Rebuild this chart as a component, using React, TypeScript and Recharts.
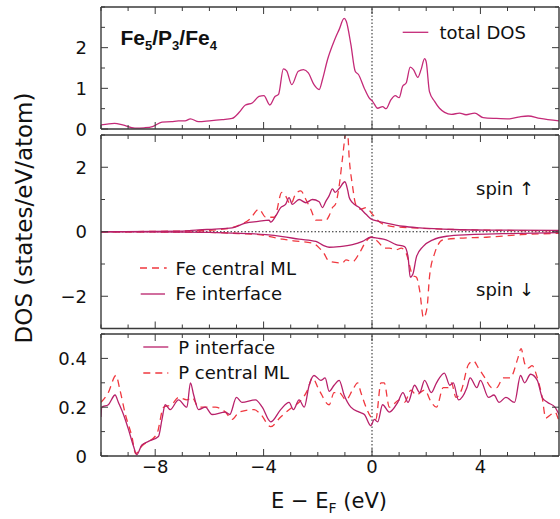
import { LineChart, Line, XAxis, YAxis, ReferenceLine } from 'recharts'

const FONT = '"DejaVu Sans", sans-serif'
const FRAME = '#3a3a3a'
const TEXT = '#111111'
const TOTAL_COLOR = '#c42a78'
const SOLID_COLOR = '#b8206a'
const DASH_COLOR = '#f0383f'

// shared energy axis (eV)
const X_DOMAIN: [number, number] = [-10, 6.9]
const X_TICKS = [-10, -9, -8, -7, -6, -5, -4, -3, -2, -1, 0, 1, 2, 3, 4, 5, 6]
const X_LABELS = [-8, -4, 0, 4]

// panel 1: total DOS
const totalE = [-10, -9.5, -9.2, -8.75, -8.4, -8.1, -7.75, -7.4, -7.14, -6.9, -6.7, -6.4, -6.0, -5.53, -5.16, -4.9, -4.67, -4.42, -4.17, -3.99, -3.77, -3.58, -3.45, -3.27, -3.15, -2.96, -2.72, -2.53, -2.35, -2.14, -1.95, -1.83, -1.64, -1.4, -1.21, -1.03, -0.95, -0.78, -0.62, -0.5, -0.29, -0.1, 0.02, 0.21, 0.39, 0.52, 0.7, 0.86, 1.0, 1.13, 1.26, 1.41, 1.53, 1.69, 1.81, 1.94, 2.0, 2.12, 2.31, 2.49, 2.68, 2.93, 3.23, 3.47, 3.79, 4.1, 4.59, 5.08, 5.46, 5.76, 6.2, 6.9]
const totalDos = [0.1, 0.14, 0.1, 0.02, 0.03, 0.06, 0.17, 0.18, 0.2, 0.2, 0.25, 0.18, 0.2, 0.23, 0.26, 0.41, 0.59, 0.64, 0.8, 0.82, 0.59, 0.8, 0.85, 1.48, 1.43, 1.09, 1.42, 1.46, 1.38, 1.09, 0.97, 1.21, 1.71, 2.16, 2.45, 2.72, 2.65, 2.08, 1.42, 1.34, 1.01, 0.76, 0.68, 0.51, 0.55, 0.5, 0.72, 0.82, 0.77, 1.05, 1.13, 1.52, 1.46, 1.27, 1.46, 1.73, 1.65, 0.92, 0.68, 0.51, 0.41, 0.36, 0.39, 0.35, 0.39, 0.28, 0.26, 0.25, 0.3, 0.32, 0.26, 0.2]

// panel 2: Fe, spin up (positive) and spin down (negative)
const feIntUpE = [-10, -7, -6.4, -5.8, -5.16, -4.67, -4.2, -3.8, -3.74, -3.55, -3.37, -3.19, -3.06, -2.94, -2.69, -2.44, -2.2, -1.95, -1.83, -1.7, -1.58, -1.46, -1.36, -1.21, -1.0, -0.9, -0.84, -0.72, -0.47, -0.22, -0.04, 0.21, 0.52, 1.14, 1.76, 3.0, 4.5, 6.9]
const feIntUp = [0, 0.02, 0.06, 0.08, 0.12, 0.27, 0.32, 0.36, 0.3, 0.49, 0.75, 0.85, 1.06, 0.85, 1.0, 0.9, 1.0, 0.93, 0.75, 0.95, 1.12, 1.33, 1.22, 1.34, 1.55, 1.3, 1.06, 0.9, 0.75, 0.54, 0.4, 0.33, 0.27, 0.17, 0.12, 0.07, 0.05, 0.04]
const feCenUpE = [-10, -6.5, -5.5, -4.85, -4.5, -4.17, -3.92, -3.6, -3.33, -3.2, -3.0, -2.82, -2.63, -2.44, -2.26, -2.07, -1.7, -1.58, -1.46, -1.35, -1.21, -1.09, -0.96, -0.9, -0.84, -0.72, -0.6, -0.41, -0.22, 0.02, 0.33, 0.77, 1.5, 3.0, 5.0, 6.9]
const feCenUp = [0, 0.03, 0.08, 0.22, 0.4, 0.7, 0.45, 0.45, 1.22, 1.12, 0.85, 1.17, 1.27, 1.0, 0.7, 0.36, 0.36, 0.5, 0.75, 0.85, 1.43, 2.27, 3.05, 3.05, 2.27, 1.43, 0.85, 0.7, 0.75, 0.54, 0.27, 0.16, 0.12, 0.07, 0.04, 0.03]
const feIntDnE = [-10, -7, -6, -5.16, -3.92, -3.3, -2.69, -2.07, -1.8, -1.58, -1.21, -0.72, -0.35, -0.04, 0.21, 0.52, 0.89, 1.2, 1.33, 1.41, 1.51, 1.64, 1.88, 2.25, 2.75, 3.6, 4.84, 6.9]
const feIntDn = [0, -0.01, -0.02, -0.04, -0.09, -0.15, -0.23, -0.3, -0.42, -0.48, -0.46, -0.4, -0.3, -0.17, -0.2, -0.25, -0.4, -0.46, -0.78, -1.41, -1.31, -0.78, -0.46, -0.25, -0.14, -0.09, -0.06, -0.03]
const feCenDnE = [-10, -6, -4.8, -4.17, -3.3, -2.9, -2.2, -1.95, -1.75, -1.64, -1.52, -1.09, -0.96, -0.72, -0.47, -0.22, -0.04, 0.21, 0.46, 0.64, 0.89, 1.08, 1.26, 1.51, 1.64, 1.76, 1.9, 2.03, 2.12, 2.31, 2.62, 3.23, 4.22, 5.5, 6.9]
const feCenDn = [0, -0.02, -0.06, -0.09, -0.23, -0.28, -0.35, -0.5, -0.7, -0.87, -0.93, -0.97, -0.87, -0.93, -0.67, -0.3, -0.17, -0.3, -0.51, -0.51, -0.56, -0.51, -0.67, -1.36, -1.41, -1.83, -2.67, -2.36, -1.41, -0.67, -0.25, -0.2, -0.17, -0.09, -0.05]

// panel 3: P
const pIntE = [-10, -9.97, -9.73, -9.48, -9.36, -9.17, -8.99, -8.8, -8.68, -8.5, -8.25, -7.88, -7.75, -7.63, -7.45, -7.14, -6.83, -6.7, -6.58, -6.4, -6.15, -5.9, -5.41, -5.25, -5.0, -4.8, -4.3, -4.05, -3.74, -3.37, -3.06, -2.9, -2.69, -2.5, -2.32, -2.14, -1.89, -1.73, -1.58, -1.4, -1.21, -1.03, -0.78, -0.47, -0.28, -0.04, 0.08, 0.21, 0.39, 0.64, 0.95, 1.14, 1.33, 1.57, 1.76, 1.94, 2.19, 2.38, 2.67, 2.87, 3.0, 3.19, 3.5, 3.62, 3.87, 4.0, 4.3, 4.5, 4.69, 4.94, 5.26, 5.48, 5.63, 5.85, 6.1, 6.28, 6.47, 6.75, 6.9]
const pInt = [0.16, 0.2, 0.21, 0.25, 0.22, 0.17, 0.11, 0.04, 0.005, 0.044, 0.06, 0.08, 0.15, 0.21, 0.19, 0.23, 0.2, 0.3, 0.25, 0.19, 0.2, 0.17, 0.18, 0.17, 0.24, 0.22, 0.23, 0.2, 0.14, 0.19, 0.22, 0.19, 0.23, 0.2, 0.29, 0.33, 0.31, 0.32, 0.265, 0.29, 0.31, 0.25, 0.2, 0.18, 0.17, 0.124, 0.15, 0.14, 0.21, 0.18, 0.22, 0.26, 0.22, 0.29, 0.26, 0.31, 0.26, 0.3, 0.34, 0.29, 0.3, 0.23, 0.28, 0.32, 0.28, 0.31, 0.24, 0.25, 0.22, 0.24, 0.22, 0.33, 0.3, 0.335, 0.31, 0.24, 0.22, 0.2, 0.17]
const pCenE = [-10, -9.73, -9.45, -9.3, -9.1, -8.86, -8.72, -8.5, -7.94, -7.69, -7.4, -7.14, -6.83, -6.64, -6.4, -5.78, -5.41, -5.16, -4.9, -4.35, -4.1, -3.74, -3.37, -2.94, -2.69, -2.38, -2.2, -1.95, -1.58, -1.4, -1.21, -0.96, -0.72, -0.53, -0.41, -0.22, -0.04, 0.14, 0.33, 0.45, 0.64, 1.02, 1.2, 1.44, 1.63, 1.94, 2.19, 2.38, 2.63, 2.8, 2.93, 3.1, 3.3, 3.56, 3.74, 3.93, 4.17, 4.42, 4.6, 4.84, 5.1, 5.38, 5.5, 5.63, 5.75, 5.91, 6.1, 6.28, 6.41, 6.6, 6.75, 6.9]
const pCen = [0.22, 0.26, 0.33, 0.27, 0.17, 0.08, 0.01, 0.04, 0.09, 0.2, 0.21, 0.24, 0.23, 0.24, 0.2, 0.2, 0.18, 0.15, 0.18, 0.19, 0.17, 0.12, 0.16, 0.2, 0.22, 0.27, 0.32, 0.27, 0.21, 0.26, 0.26, 0.23, 0.27, 0.3, 0.26, 0.2, 0.16, 0.15, 0.3, 0.3, 0.2, 0.23, 0.22, 0.27, 0.25, 0.27, 0.22, 0.2, 0.28, 0.28, 0.3, 0.24, 0.27, 0.375, 0.39, 0.36, 0.32, 0.28, 0.28, 0.32, 0.32, 0.4, 0.44, 0.38, 0.36, 0.37, 0.32, 0.24, 0.155, 0.17, 0.18, 0.14]

const P1_TICKS = [0, 0.5, 1, 1.5, 2, 2.5, 3]
const P1_LABELS = [0, 1, 2]
const P2_TICKS = [-3, -2, -1, 0, 1, 2, 3]
const P2_LABELS = [-2, 0, 2]
const P3_TICKS = [0, 0.1, 0.2, 0.3, 0.4, 0.5]
const P3_LABELS = [0, 0.2, 0.4]

type Series = { e: number[]; v: number[]; color: string; dashed?: boolean; width?: number }

function pts(e: number[], v: number[]) {
  return e.map((x, i) => ({ e: x, v: v[i] }))
}

function fmt(v: number) {
  const s = String(Math.abs(v))
  return v < 0 ? '\u2212' + s : s
}

function near(list: number[], v: number) {
  return list.some(l => Math.abs(l - v) < 1e-6)
}

const W = 560
const H = 519

interface PanelProps {
  top: number
  bottom: number
  yDomain: [number, number]
  yTicks: number[]
  yLabels: number[]
  series: Series[]
  showX?: boolean
  zeroY?: boolean
}

function Panel({ top, bottom, yDomain, yTicks, yLabels, series, showX, zeroY }: PanelProps) {
  const bottomTick = (p: any) => {
    const v = p.payload.value as number
    const major = near(X_LABELS, v)
    return (
      <g>
        <line x1={p.x} y1={p.y} x2={p.x} y2={p.y - (major ? 7 : 4)} stroke={FRAME} strokeWidth={1} />
        {showX && major && (
          <text x={p.x} y={p.y + 17} textAnchor="middle" fontFamily={FONT} fontSize={18} fill={TEXT}>
            {fmt(v)}
          </text>
        )}
      </g>
    )
  }
  const topTick = (p: any) => {
    const v = p.payload.value as number
    const major = near(X_LABELS, v)
    return <line x1={p.x} y1={p.y} x2={p.x} y2={p.y + (major ? 7 : 4)} stroke={FRAME} strokeWidth={1} />
  }
  const leftTick = (p: any) => {
    const v = p.payload.value as number
    const major = near(yLabels, v)
    return (
      <g>
        <line x1={p.x} y1={p.y} x2={p.x + (major ? 7 : 4)} y2={p.y} stroke={FRAME} strokeWidth={1} />
        {major && (
          <text x={p.x - 14} y={p.y + 6.5} textAnchor="end" fontFamily={FONT} fontSize={18} fill={TEXT}>
            {fmt(v)}
          </text>
        )}
      </g>
    )
  }
  const rightTick = (p: any) => {
    const v = p.payload.value as number
    const major = near(yLabels, v)
    return <line x1={p.x} y1={p.y} x2={p.x - (major ? 7 : 4)} y2={p.y} stroke={FRAME} strokeWidth={1} />
  }
  const axisLine = { stroke: FRAME, strokeWidth: 1.4 }

  return (
    <div style={{ position: 'absolute', left: 0, top: 0 }}>
      <LineChart width={W} height={H} margin={{ top: top - 1, right: 0, bottom: H - bottom - 1, left: 0 }}>
        <XAxis xAxisId="b" dataKey="e" type="number" domain={X_DOMAIN} ticks={X_TICKS} interval={0}
          height={1} tickSize={0} tickMargin={0} axisLine={axisLine} tickLine={false} tick={bottomTick} allowDataOverflow />
        <XAxis xAxisId="t" orientation="top" dataKey="e" type="number" domain={X_DOMAIN} ticks={X_TICKS} interval={0}
          height={1} tickSize={0} tickMargin={0} axisLine={axisLine} tickLine={false} tick={topTick} allowDataOverflow />
        <YAxis yAxisId="l" type="number" domain={yDomain} ticks={yTicks} interval={0}
          width={101} tickSize={0} tickMargin={0} axisLine={axisLine} tickLine={false} tick={leftTick} allowDataOverflow />
        <YAxis yAxisId="r" orientation="right" type="number" domain={yDomain} ticks={yTicks} interval={0}
          width={1} tickSize={0} tickMargin={0} axisLine={axisLine} tickLine={false} tick={rightTick} allowDataOverflow />
        <ReferenceLine xAxisId="b" yAxisId="l" x={0} stroke="#222" strokeWidth={1} strokeDasharray="1.5 2" />
        {zeroY && <ReferenceLine xAxisId="b" yAxisId="l" y={0} stroke="#222" strokeWidth={1} strokeDasharray="1.5 2" />}
        {series.map((s, i) => (
          <Line key={i} xAxisId="b" yAxisId="l" data={pts(s.e, s.v)} dataKey="v" type="monotone"
            stroke={s.color} strokeWidth={s.width ?? 1.3} strokeDasharray={s.dashed ? '7 5' : undefined}
            dot={false} activeDot={false} isAnimationActive={false} />
        ))}
      </LineChart>
    </div>
  )
}

function Labels() {
  const t = { fontFamily: FONT, fontSize: 18, fill: TEXT }
  return (
    <svg width={W} height={H} style={{ position: 'absolute', left: 0, top: 0, pointerEvents: 'none' }}>
      <text x={120.5} y={45} fontFamily='"Liberation Sans", Arial, sans-serif' fontWeight="bold" fontSize={21} fill={TEXT}>
        Fe<tspan fontSize={13} dy={5}>5</tspan><tspan dy={-5}>/P</tspan><tspan fontSize={13} dy={5}>3</tspan><tspan dy={-5}>/Fe</tspan><tspan fontSize={13} dy={5}>4</tspan>
      </text>

      <line x1={402.7} y1={32.3} x2={428.3} y2={32.3} stroke={TOTAL_COLOR} strokeWidth={1.3} />
      <text x={439.5} y={39.3} {...t}>total DOS</text>

      <line x1={140} y1={268} x2={166.7} y2={268} stroke={DASH_COLOR} strokeWidth={1.3} strokeDasharray="7 5" />
      <text x={175.6} y={274.7} {...t}>Fe central ML</text>
      <line x1={140.7} y1={294} x2={165} y2={294} stroke={SOLID_COLOR} strokeWidth={1.3} />
      <text x={175.6} y={300.3} {...t}>Fe interface</text>

      <text x={476} y={195} {...t}>spin ↑</text>
      <text x={476} y={295.5} {...t}>spin ↓</text>

      <line x1={143.3} y1={347} x2={168.3} y2={347} stroke={SOLID_COLOR} strokeWidth={1.3} />
      <text x={178.3} y={353.7} {...t}>P interface</text>
      <line x1={143.3} y1={373} x2={168.3} y2={373} stroke={DASH_COLOR} strokeWidth={1.3} strokeDasharray="7 5" />
      <text x={178.3} y={379.3} {...t}>P central ML</text>

      <text x={329} y={508} textAnchor="middle" fontFamily={FONT} fontSize={21} fill={TEXT}>
        E − E<tspan fontSize={14} dy={5}>F</tspan><tspan dy={-5}> (eV)</tspan>
      </text>
      <text transform="translate(32,218) rotate(-90)" textAnchor="middle" fontFamily={FONT} fontSize={23} fill={TEXT}>
        DOS (states/eV/atom)
      </text>
    </svg>
  )
}

export default function App() {
  return (
    <div style={{ position: 'absolute', left: 0, top: 0, width: W, height: H, background: '#fff' }}>
      <Panel top={7} bottom={129} yDomain={[0, 3]} yTicks={P1_TICKS} yLabels={P1_LABELS}
        series={[{ e: totalE, v: totalDos, color: TOTAL_COLOR }]} />
      <Panel top={135} bottom={328.5} yDomain={[-3, 3]} yTicks={P2_TICKS} yLabels={P2_LABELS} zeroY
        series={[
          { e: feCenUpE, v: feCenUp, color: DASH_COLOR, dashed: true },
          { e: feCenDnE, v: feCenDn, color: DASH_COLOR, dashed: true },
          { e: feIntUpE, v: feIntUp, color: SOLID_COLOR },
          { e: feIntDnE, v: feIntDn, color: SOLID_COLOR },
        ]} />
      <Panel top={334} bottom={456} yDomain={[0, 0.5]} yTicks={P3_TICKS} yLabels={P3_LABELS} showX
        series={[
          { e: pCenE, v: pCen, color: DASH_COLOR, dashed: true },
          { e: pIntE, v: pInt, color: SOLID_COLOR },
        ]} />
      <Labels />
    </div>
  )
}
